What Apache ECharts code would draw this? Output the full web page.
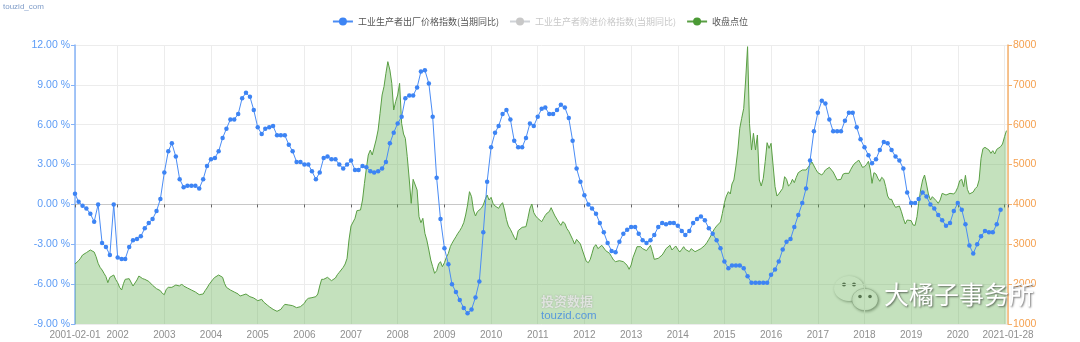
<!DOCTYPE html>
<html>
<head>
<meta charset="utf-8">
<title>PPI 与 收盘点位</title>
<script src="https://cdn.jsdelivr.net/npm/echarts@6/dist/echarts.min.js"></script>
<style>
  html, body { margin: 0; padding: 0; background: #ffffff; }
  #chart { width: 1080px; height: 342px; }
</style>
</head>
<body>
<div id="chart"></div>
<script>
// ---- data ----
const seriesNames = ['工业生产者出厂价格指数(当期同比)', '工业生产者购进价格指数(当期同比)', '收盘点位'];

// PPI year-on-year (%), monthly from 2001-02 to 2020-12
const ppiFirstMonth = [2001, 2];
const ppiValues = [
  0.8, 0.2, -0.1, -0.3, -0.7, -1.3, 0, -2.9, -3.2, -3.8, 0,
  -4.0, -4.1, -4.1, -3.2, -2.7, -2.6, -2.4, -1.8, -1.4, -1.1, -0.5, 0.4,
  2.4, 4.0, 4.6, 3.6, 1.9, 1.3, 1.4, 1.4, 1.4, 1.2, 1.9, 2.9,
  3.4, 3.5, 4.0, 5.0, 5.7, 6.4, 6.4, 6.8, 8.0, 8.4, 8.1, 7.1,
  5.8, 5.3, 5.7, 5.8, 5.9, 5.2, 5.2, 5.2, 4.5, 4.0, 3.2, 3.2,
  3.0, 3.0, 2.5, 1.9, 2.4, 3.5, 3.6, 3.4, 3.4, 3.0, 2.7, 3.0,
  3.3, 2.6, 2.6, 2.9, 2.8, 2.5, 2.4, 2.5, 2.7, 3.2, 4.6, 5.4,
  6.1, 6.6, 8.0, 8.2, 8.2, 8.8, 10.0, 10.1, 9.1, 6.6, 2.0, -1.1,
  -3.3, -4.5, -6.0, -6.6, -7.2, -7.8, -8.2, -7.9, -7.0, -5.8, -2.1, 1.7,
  4.3, 5.4, 5.9, 6.8, 7.1, 6.4, 4.8, 4.3, 4.3, 5.0, 6.1, 5.9,
  6.6, 7.2, 7.3, 6.8, 6.8, 7.1, 7.5, 7.3, 6.5, 4.8, 2.7, 1.7,
  0.7, 0.0, -0.3, -0.7, -1.4, -2.1, -2.9, -3.5, -3.6, -2.8, -2.2, -1.9,
  -1.7, -1.7, -2.2, -2.7, -2.9, -2.7, -2.3, -1.7, -1.4, -1.5, -1.4, -1.4,
  -1.6, -2.0, -2.3, -2.0, -1.4, -1.1, -0.9, -1.2, -1.8, -2.2, -2.7, -3.3,
  -4.3, -4.8, -4.6, -4.6, -4.6, -4.8, -5.4, -5.9, -5.9, -5.9, -5.9, -5.9,
  -5.3, -4.9, -4.3, -3.4, -2.8, -2.6, -1.7, -0.8, 0.1, 1.2, 3.3, 5.5,
  6.9, 7.8, 7.6, 6.4, 5.5, 5.5, 5.5, 6.3, 6.9, 6.9, 5.8, 4.9,
  4.3, 3.7, 3.1, 3.4, 4.1, 4.7, 4.6, 4.1, 3.6, 3.3, 2.7, 0.9,
  0.1, 0.1, 0.4, 0.9, 0.6, 0.0, -0.3, -0.8, -1.2, -1.6, -1.4, -0.5,
  0.1, -0.4, -1.5, -3.1, -3.7, -3.0, -2.4, -2.0, -2.1, -2.1, -1.5, -0.4
];

// PPIRM series: listed in the legend, switched off
const ppirmValues = [];

// Index closing level, sampled on the 1st and 16th of each month from 2001-02-01
const closeFirstDay = [2001, 2, 1];
const closeValues = [
  2505, 2480, 2589, 2648, 2731, 2756, 2790, 2840, 2857, 2840,
  2806, 2689, 2522, 2422, 2355, 2271, 2188, 2037, 2171, 2171,
  2229, 2121, 2037, 1920, 1853, 2020, 2121, 2087, 2137, 2087,
  1953, 1920, 2104, 2204, 2171, 2137, 2121, 2087, 2070, 2020,
  1970, 1937, 1886, 1870, 1836, 1769, 1736, 1870, 1920, 1903,
  1920, 1937, 1978, 2020, 1953, 2004, 1953, 1920, 1903, 1870,
  1853, 1820, 1803, 1769, 1736, 1702, 1753, 1836, 1903, 1987,
  2054, 2121, 2171, 2204, 2229, 2271, 2171, 2020, 1920, 1886,
  1853, 1820, 1803, 1786, 1753, 1702, 1719, 1753, 1753, 1719,
  1686, 1669, 1652, 1619, 1585, 1602, 1619, 1552, 1502, 1477,
  1435, 1385, 1368, 1385, 1318, 1284, 1368, 1435, 1493, 1519,
  1477, 1452, 1460, 1435, 1410, 1410, 1435, 1452, 1519, 1602,
  1644, 1644, 1661, 1669, 1686, 1753, 1953, 2121, 2121, 2087,
  2171, 2188, 2087, 2121, 2154, 2238, 2296, 2338, 2422, 2505,
  2648, 3107, 3459, 3475, 3651, 3843, 3827, 3860, 4111, 4529,
  4905, 5240, 5365, 5240, 5282, 5616, 5867, 6285, 6745, 6955,
  7289, 7582, 7372, 7038, 6369, 6578, 6745, 7038, 6034, 5767,
  5658, 5198, 4613, 4027, 4630, 4680, 4362, 3693, 3542, 3651,
  3275, 3107, 2857, 2606, 2438, 2271, 2338, 2505, 2564, 2438,
  2539, 2673, 2773, 2940, 3024, 3107, 3191, 3275, 3342, 3425,
  3542, 3735, 3986, 4320, 4195, 3860, 3710, 3818, 3776, 3902,
  3986, 4128, 4236, 4111, 4178, 4027, 3960, 3927, 3902, 3986,
  4044, 3860, 3626, 3459, 3375, 3275, 3174, 3107, 3342, 3392,
  3425, 3375, 3442, 3651, 3902, 4011, 3793, 3710, 3651, 3651,
  3567, 3651, 3726, 3785, 3818, 3919, 3810, 3710, 3626, 3542,
  3475, 3567, 3526, 3400, 3325, 3275, 3124, 3007, 3124, 3124,
  3007, 2857, 2706, 2572, 2539, 2622, 2773, 2940, 2990, 2890,
  2873, 2974, 2907, 2840, 2857, 2773, 2689, 2606, 2564, 2522,
  2589, 2539, 2564, 2539, 2472, 2372, 2480, 2673, 2806, 2940,
  2990, 2940, 2890, 2940, 2840, 2790, 2974, 2815, 2622, 2589,
  2648, 2689, 2731, 2806, 2890, 2857, 2974, 2857, 2890, 2957,
  2873, 2806, 2873, 2940, 2873, 2873, 2815, 2890, 2840, 2815,
  2840, 2857, 2890, 2923, 2974, 3040, 3124, 3208, 3308, 3392,
  3459, 3492, 3559, 3777, 4044, 4211, 4320, 4262, 4512, 4613,
  4964, 5365, 5909, 6160, 6411, 7122, 7958, 6034, 5365, 5784,
  5365, 5742, 4613, 4462, 4655, 5073, 5549, 5407, 5533, 5516,
  4446, 4211, 4262, 4236, 4404, 4696, 4630, 4462, 4512, 4630,
  4546, 4680, 4797, 4797, 4864, 4830, 4864, 4914, 4998, 5064,
  5014, 4880, 4797, 4763, 4738, 4797, 4864, 4914, 4931, 4897,
  4813, 4763, 4613, 4563, 4630, 4755, 4780, 4797, 4780, 4880,
  4964, 5031, 5064, 5115, 5031, 4931, 4947, 4998, 5081, 4864,
  4529, 4797, 4763, 4655, 4579, 4680, 4630, 4446, 4211, 4128,
  4128, 4011, 3927, 3927, 3960, 3827, 3651, 3509, 3609, 3567,
  3593, 3484, 3475, 3693, 4027, 4362, 4613, 4738, 4512, 4262,
  4111, 4195, 4228, 4094, 4027, 4111, 4278, 4320, 4236, 4195,
  4278, 4320, 4262, 4320, 4429, 4596, 4630, 4446, 4730, 4379,
  4262, 4236, 4312, 4395, 4446, 4613, 5157, 5399, 5432, 5466,
  5365, 5282, 5349, 5265, 5382, 5382, 5449, 5516, 5700, 5851
];

// axis range and tick labels
const xEdgeLabels = ['2001-02-01', '2021-01-28'];
const leftTicks = [-9, -6, -3, 0, 3, 6, 9, 12];
const rightTicks = [1000, 2000, 3000, 4000, 5000, 6000, 7000, 8000];

// ---- helpers ----
function pad(n) { return n < 10 ? '0' + n : '' + n; }
function monthDate(y, m, offset, day) {
  const k = (m - 1) + offset;
  const yy = y + Math.floor(k / 12);
  const mm = (k % 12) + 1;
  return yy + '-' + pad(mm) + '-' + pad(day);
}

const ppiData = ppiValues.map((v, i) => [monthDate(ppiFirstMonth[0], ppiFirstMonth[1], i, 1), v]);
const closeData = closeValues.map((v, i) => [
  monthDate(closeFirstDay[0], closeFirstDay[1], Math.floor(i / 2), i % 2 ? 16 : 1), v
]);

const minTs = +echarts.time.parse(xEdgeLabels[0]);
const maxTs = +echarts.time.parse(xEdgeLabels[1]);
const YEAR = 365 * 24 * 3600 * 1000;

const chart = echarts.init(document.getElementById('chart'), null, { renderer: 'canvas' });

const baseFont = '"Liberation Sans", "Noto Sans CJK SC", sans-serif';
const cjkFont = '"Noto Sans CJK SC", sans-serif';

chart.setOption({
  animation: false,
  backgroundColor: '#ffffff',
  textStyle: { fontFamily: baseFont },
  legend: {
    top: 12,
    left: 'center',
    itemWidth: 20,
    itemHeight: 10,
    itemGap: 10,
    textStyle: { fontSize: 9, color: '#555', fontFamily: cjkFont },
    inactiveColor: '#c8c8c8',
    data: seriesNames,
    selected: { [seriesNames[1]]: false }
  },
  grid: { left: 75, right: 72, top: 45, bottom: 18, containLabel: false },
  xAxis: [
    {
      type: 'time',
      min: xEdgeLabels[0],
      max: xEdgeLabels[1],
      splitNumber: 20,
      maxInterval: YEAR * 1.01,
      axisLine: { show: false, onZero: false },
      axisTick: { show: false },
      axisLabel: {
        color: '#8f8f8f',
        fontSize: 10,
        margin: 6,
        showMinLabel: true,
        showMaxLabel: true,
        hideOverlap: false,
        formatter: function (value) {
          if (Math.abs(value - minTs) < 86400000) return xEdgeLabels[0];
          if (Math.abs(value - maxTs) < 86400000) return xEdgeLabels[1];
          return String(new Date(value).getFullYear());
        }
      },
      splitLine: { show: true, lineStyle: { color: '#ececec', width: 1 } }
    },
    {
      // zero baseline with year ticks
      type: 'time',
      min: xEdgeLabels[0],
      max: xEdgeLabels[1],
      splitNumber: 20,
      maxInterval: YEAR * 1.01,
      position: 'bottom',
      axisLine: { show: true, onZero: true, onZeroAxisIndex: 0, lineStyle: { color: '#c8c8c8', width: 1 } },
      axisTick: { show: true, length: 3, lineStyle: { color: '#666', width: 1 } },
      axisLabel: { show: false },
      splitLine: { show: false }
    }
  ],
  yAxis: [
    {
      type: 'value',
      position: 'left',
      min: leftTicks[0],
      max: leftTicks[leftTicks.length - 1],
      interval: leftTicks[1] - leftTicks[0],
      axisLine: { show: true, lineStyle: { color: '#86b3f7', width: 1.5 } },
      axisTick: { show: true, length: 4, lineStyle: { color: '#86b3f7' } },
      axisLabel: {
        color: '#5b9bf6',
        fontSize: 10.5,
        margin: 5,
        formatter: v => v.toFixed(2) + ' %'
      },
      splitLine: { show: true, lineStyle: { color: '#ececec', width: 1 } }
    },
    {
      type: 'value',
      position: 'right',
      min: rightTicks[0],
      max: rightTicks[rightTicks.length - 1],
      interval: rightTicks[1] - rightTicks[0],
      axisLine: { show: true, lineStyle: { color: '#f6b06b', width: 1.5 } },
      axisTick: { show: true, length: 4, lineStyle: { color: '#f6b06b' } },
      axisLabel: { color: '#f5a04f', fontSize: 10.5, margin: 5, formatter: v => String(v) },
      splitLine: { show: false }
    }
  ],
  series: [
    {
      name: seriesNames[0],
      type: 'line',
      xAxisIndex: 0,
      yAxisIndex: 0,
      data: ppiData,
      symbol: 'circle',
      symbolSize: 4.5,
      showSymbol: true,
      z: 4,
      itemStyle: { color: '#3d84f4' },
      lineStyle: { color: '#4a8cf5', width: 1 }
    },
    {
      name: seriesNames[1],
      type: 'line',
      xAxisIndex: 0,
      yAxisIndex: 0,
      data: ppirmValues,
      symbol: 'circle',
      symbolSize: 4.5,
      itemStyle: { color: '#c8c8c8' },
      lineStyle: { width: 1 }
    },
    {
      name: seriesNames[2],
      type: 'line',
      xAxisIndex: 0,
      yAxisIndex: 1,
      data: closeData,
      symbol: 'circle',
      symbolSize: 4.5,
      showSymbol: false,
      z: 2,
      itemStyle: { color: '#4b9a35' },
      lineStyle: { color: '#5a9f44', width: 1 },
      areaStyle: { color: 'rgba(92,172,72,0.36)', opacity: 1, origin: 'start' }
    }
  ],
  graphic: [
    {
      type: 'text', left: 3, top: 3, silent: true,
      style: { text: 'touzid_com', fill: '#7f9cc8', fontSize: 8, fontFamily: baseFont }
    },
    {
      type: 'text', left: 541, top: 295, silent: true, z: 100,
      style: {
        text: '投资数据', fill: 'rgba(240,240,240,0.8)', fontSize: 13, fontWeight: 'bold',
        fontFamily: cjkFont, textShadowColor: 'rgba(90,90,90,0.55)', textShadowBlur: 1.5
      }
    },
    {
      type: 'text', left: 541, top: 310, silent: true, z: 100,
      style: { text: 'touzid.com', fill: 'rgba(70,140,225,0.85)', fontSize: 11.5, fontFamily: baseFont }
    },
    {
      type: 'group', left: 834, top: 276, silent: true, z: 100,
      children: [
        { type: 'ellipse', shape: { cx: 16, cy: 13, rx: 15, ry: 12.5 },
          style: { fill: '#ffffff', shadowBlur: 3, shadowColor: 'rgba(0,0,0,0.45)', shadowOffsetX: 1, shadowOffsetY: 1 } },
        { type: 'circle', shape: { cx: 11, cy: 9, r: 2 }, style: { fill: '#555' } },
        { type: 'circle', shape: { cx: 21, cy: 9, r: 2 }, style: { fill: '#555' } },
        { type: 'ellipse', shape: { cx: 32, cy: 24, rx: 13, ry: 11 },
          style: { fill: '#ffffff', stroke: 'rgba(120,120,120,0.35)', lineWidth: 1,
                   shadowBlur: 3, shadowColor: 'rgba(0,0,0,0.45)', shadowOffsetX: 1, shadowOffsetY: 1 } },
        { type: 'circle', shape: { cx: 27, cy: 21, r: 1.8 }, style: { fill: '#555' } },
        { type: 'circle', shape: { cx: 37, cy: 21, r: 1.8 }, style: { fill: '#555' } }
      ]
    },
    {
      type: 'text', left: 884, top: 282, silent: true, z: 100,
      style: {
        text: '大橘子事务所', fill: '#ffffff', fontSize: 25, fontFamily: cjkFont,
        textShadowColor: 'rgba(0,0,0,0.55)', textShadowBlur: 2, textShadowOffsetX: 1, textShadowOffsetY: 1
      }
    }
  ]
});
</script>
</body>
</html>
